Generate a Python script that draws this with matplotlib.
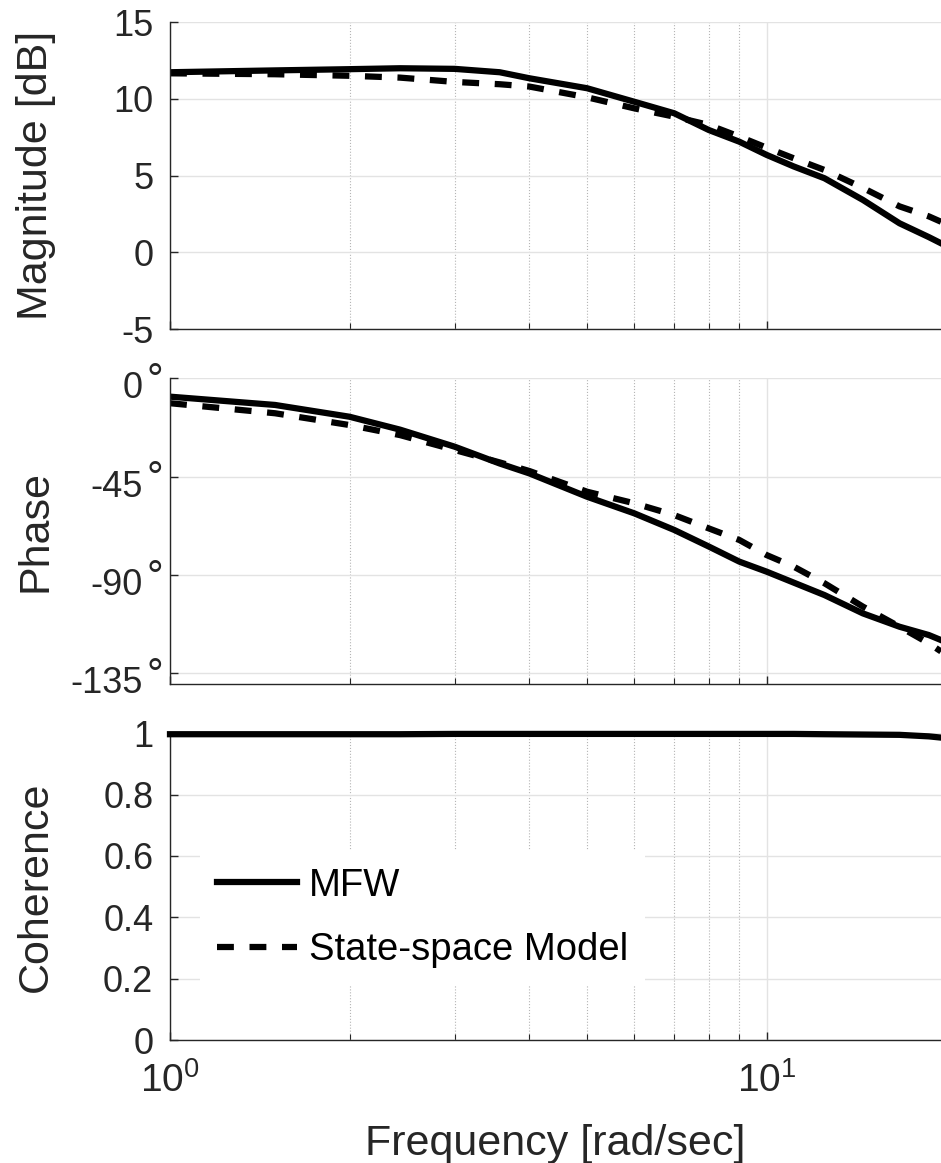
import numpy as np
import matplotlib
matplotlib.use('Agg')
import matplotlib.pyplot as plt
import matplotlib.transforms as mtransforms
from matplotlib.ticker import FixedLocator, LogLocator, NullFormatter, FormatStrFormatter

plt.rcParams['font.family'] = ['Liberation Sans', 'DejaVu Sans']
plt.rcParams['mathtext.fontset'] = 'custom'
plt.rcParams['mathtext.rm'] = 'Liberation Sans'
plt.rcParams['mathtext.it'] = 'Liberation Sans:italic'
plt.rcParams['axes.unicode_minus'] = False

# frequency points [rad/sec]
freq = [1.0, 1.5, 2.0, 2.43, 3.0, 3.57, 4.0, 5.0, 6.0, 7.0, 8.0, 9.0,
        10.0, 11.1, 12.5, 14.5, 16.7, 18.7, 19.6]

# magnitude [dB]
mag_mfw = [11.73, 11.85, 11.93, 11.99, 11.95, 11.73, 11.34, 10.69, 9.81, 9.06, 7.97, 7.21,
           6.35, 5.6, 4.83, 3.42, 1.9, 1.0, 0.6]
mag_ss = [11.66, 11.6, 11.5, 11.38, 11.1, 10.95, 10.8, 10.1, 9.38, 8.84, 8.3, 7.54,
          6.82, 6.13, 5.37, 4.2, 3.0, 2.35, 2.0]

# phase [deg]
ph_mfw = [-8.4, -12.2, -17.6, -23.5, -31.3, -39.0, -43.5, -54.2, -61.8, -69.4, -77.0, -83.9,
          -88.5, -93.5, -99.2, -107.6, -113.7, -117.5, -119.8]
ph_ss = [-11.4, -16.0, -21.4, -26.0, -32.8, -38.5, -42.4, -51.9, -57.2, -62.6, -68.7, -74.0,
         -80.9, -86.2, -93.8, -104.5, -113.7, -121.3, -125.0]

# coherence
coh_mfw = [0.997, 0.997, 0.997, 0.997, 0.998, 0.998, 0.998, 0.998, 0.998, 0.998, 0.998, 0.998,
           0.998, 0.998, 0.997, 0.996, 0.995, 0.99, 0.986]

mag_ticks = [-5, 0, 5, 10, 15]
ph_ticks = [-135, -90, -45, 0]
coh_ticks = [0, 0.2, 0.4, 0.6, 0.8, 1]

dark = '#262626'
W, H = 941, 1163
fig = plt.figure(figsize=(W / 100, H / 100), dpi=100)

left = 170 / W
width = 1 - left


def make_ax(top_px, bot_px):
    return fig.add_axes([left, 1 - bot_px / H, width, (bot_px - top_px) / H])


ax1 = make_ax(22, 329.3)
ax2 = make_ax(378.3, 684.2)
ax3 = make_ax(733.3, 1040)

lw = 4.5
dash = (2.7, 2.5)
label_fs = 31
tick_fs = 26

l1, = ax1.plot(freq, mag_mfw, color='black', lw=lw, label='MFW')
l2, = ax1.plot(freq, mag_ss, color='black', lw=lw, ls='--', label='State-space Model')
l2.set_dashes(dash)
ax2.plot(freq, ph_mfw, color='black', lw=lw)
l4, = ax2.plot(freq, ph_ss, color='black', lw=lw, ls='--')
l4.set_dashes(dash)
ax3.plot(freq, coh_mfw, color='black', lw=lw, clip_on=False, zorder=5)

ax1.set_ylim(-5, 15)
ax1.yaxis.set_major_locator(FixedLocator(mag_ticks))
ax1.yaxis.set_major_formatter(FormatStrFormatter('%g'))
ax1.set_ylabel('Magnitude [dB]', fontsize=label_fs, color=dark)

ax2.set_ylim(-140, 0)
ax2.yaxis.set_major_locator(FixedLocator(ph_ticks))
ax2.tick_params(axis='y', labelleft=False)
ax2.set_ylabel('Phase', fontsize=label_fs, color=dark)

# phase tick labels in MATLAB style: number sits low, degree ring raised
blend = mtransforms.blended_transform_factory(ax2.transAxes, ax2.transData)
num_tr = blend + mtransforms.ScaledTranslation(0, -7.5 / 72, fig.dpi_scale_trans)
deg_tr = blend + mtransforms.ScaledTranslation(0, -10.5 / 72, fig.dpi_scale_trans)
for t in ph_ticks:
    ax2.text(-0.035, t, '%d' % t, transform=num_tr, fontsize=tick_fs, color=dark,
             ha='right', va='center', clip_on=False)
    ax2.text(-0.031, t, '°', transform=deg_tr, fontsize=30, color=dark,
             ha='left', va='baseline', clip_on=False)

ax3.set_ylim(0, 1)
ax3.yaxis.set_major_locator(FixedLocator(coh_ticks))
ax3.yaxis.set_major_formatter(FormatStrFormatter('%g'))
ax3.set_ylabel('Coherence', fontsize=label_fs, color=dark)
ax3.set_xlabel('Frequency [rad/sec]', fontsize=label_fs, color=dark, labelpad=17)

for ax in (ax1, ax2, ax3):
    ax.set_xscale('log')
    ax.set_xlim(1, 19.6)
    ax.xaxis.set_major_locator(LogLocator(base=10, numticks=5))
    ax.xaxis.set_minor_locator(LogLocator(base=10, subs=np.arange(2, 10), numticks=10))
    ax.xaxis.set_minor_formatter(NullFormatter())
    for s in ('top', 'right'):
        ax.spines[s].set_visible(False)
    for s in ('left', 'bottom'):
        ax.spines[s].set_color(dark)
        ax.spines[s].set_linewidth(1.0)
    ax.tick_params(which='both', direction='in', colors=dark, labelsize=tick_fs)
    ax.tick_params(which='major', length=6, width=1.0)
    ax.tick_params(which='minor', length=4.5, width=0.8)
    ax.tick_params(axis='y', pad=12)
    ax.grid(True, which='major', color='#e3e3e3', lw=1.0, ls='-')
    ax.grid(True, which='minor', axis='x', color='#b5b5b5', lw=0.8, ls=':')
    ax.set_axisbelow(True)
    ax.yaxis.set_label_coords(-0.148, 0.5)

ax1.tick_params(labelbottom=False)
ax2.tick_params(labelbottom=False)
ax3.tick_params(axis='x', pad=16, labelsize=28)

leg = ax3.legend(handles=[l1, l2], loc='upper left', bbox_to_anchor=(0.039, 0.618),
                 borderaxespad=0, fontsize=27.5, frameon=True, fancybox=False,
                 facecolor='white', edgecolor='none', framealpha=1,
                 handlelength=2.1, handletextpad=0.3, labelspacing=0.74, borderpad=0.45)
leg.set_zorder(4)

fig.savefig('out.png', dpi=100)
